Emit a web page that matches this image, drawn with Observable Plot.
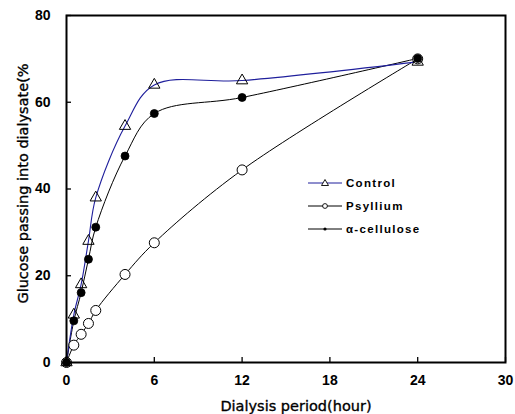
<!DOCTYPE html>
<html>
<head>
<meta charset="utf-8">
<script src="https://cdn.jsdelivr.net/npm/d3@7"></script>
<script src="https://cdn.jsdelivr.net/npm/@observablehq/plot@0.6"></script>
<style>
  html, body { margin: 0; padding: 0; background: #fff; }
  #wrap { position: relative; width: 515px; height: 414px; }
  #legend { position: absolute; left: 308px; top: 171px; font-family: "Liberation Sans", Arial, sans-serif; font-weight: bold; font-size: 11.5px; letter-spacing: 1.3px; color: #000; }
  #legend .row { display: flex; align-items: center; height: 23px; }
  #legend svg { margin-right: 2px; }
</style>
</head>
<body>
<div id="wrap"></div>
<script>
const hours = [0, 0.5, 1, 1.5, 2, 4, 6, 12, 24];
const control = [0, 11, 18, 28, 38, 54.5, 64, 65, 69.3];
const psyllium = [0, 4, 6.5, 9, 12, 20.3, 27.6, 44.4, 70];
const cellulose = [0, 9.6, 16.1, 23.8, 31.2, 47.6, 57.4, 61.1, 70.1];
const seriesNames = ["Control", "Psyllium", "α-cellulose"];
const xTicks = [0, 6, 12, 18, 24, 30];
const yTicks = [0, 20, 40, 60, 80];
const xLabel = "Dialysis period(hour)";
const yLabel = "Glucose passing into dialysate(%";

const blue = "#1f1f9c";
const font = "Liberation Sans, Arial, sans-serif";
const labelFont = "DejaVu Sans, Verdana, sans-serif";

const rows = (vals, name) => hours.map((h, i) => ({hour: h, value: vals[i], series: name}));
const dControl = rows(control, seriesNames[0]);
const dPsyllium = rows(psyllium, seriesNames[1]);
const dCellulose = rows(cellulose, seriesNames[2]);

const chart = Plot.plot({
  width: 515,
  height: 414,
  marginLeft: 66,
  marginRight: 10,
  marginTop: 15,
  marginBottom: 52,
  style: {fontFamily: font, fontSize: "14px", fontWeight: "bold", background: "#fff"},
  x: {domain: [0, 30]},
  y: {domain: [0, 80]},
  marks: [
    Plot.axisX({ticks: xTicks, tickSize: 0, tickPadding: 13, tickFormat: d => d, label: null}),
    Plot.axisY({ticks: yTicks, tickSize: 0, tickPadding: 16, tickFormat: d => d, label: null}),
    Plot.axisX({ticks: xTicks, tickSize: 5, dy: -5, text: null, label: null, strokeWidth: 1.3}),
    Plot.axisY({ticks: yTicks, tickSize: 5, dx: 5, text: null, label: null, strokeWidth: 1.3}),
    Plot.line(dPsyllium, {x: "hour", y: "value", curve: "catmull-rom", stroke: "#000", strokeWidth: 1}),
    Plot.line(dCellulose, {x: "hour", y: "value", curve: "catmull-rom", stroke: "#000", strokeWidth: 1}),
    Plot.line(dControl, {x: "hour", y: "value", curve: "catmull-rom", stroke: blue, strokeWidth: 1.1}),
    Plot.dot(dPsyllium, {x: "hour", y: "value", r: 5, fill: "#fff", stroke: "#000", strokeWidth: 1}),
    Plot.dot(dCellulose, {x: "hour", y: "value", r: 4, fill: "#000", stroke: "#000", strokeWidth: 0.8}),
    Plot.dot(dControl, {x: "hour", y: "value", r: 4.2, symbol: "triangle", fill: "none", stroke: "#000", strokeWidth: 1}),
    Plot.frame({stroke: "#000", strokeWidth: 2}),
    Plot.text([xLabel], {frameAnchor: "bottom", dy: 44, dx: 10, textAnchor: "middle", lineAnchor: "middle", fontFamily: labelFont, fontSize: 14.5, fontWeight: "normal", letterSpacing: "1.2px", fill: "#000", stroke: "#000", strokeWidth: 0.35}),
    Plot.text([yLabel], {frameAnchor: "left", dx: -43.5, dy: -5.5, rotate: -90, textAnchor: "middle", lineAnchor: "middle", fontFamily: labelFont, fontSize: 14.5, fontWeight: "normal", letterSpacing: "0.3px", fill: "#000", stroke: "#000", strokeWidth: 0.35})
  ]
});

const wrap = document.getElementById("wrap");
wrap.appendChild(chart);

// legend
const legend = document.createElement("div");
legend.id = "legend";
const sym = {
  "Control": `<line x1="0" y1="6" x2="34" y2="6" stroke="${blue}" stroke-width="1"/><path d="M17,2.5 L20.5,8.5 L13.5,8.5 Z" fill="#fff" stroke="#000" stroke-width="0.9"/>`,
  "Psyllium": `<line x1="0" y1="6" x2="34" y2="6" stroke="#000" stroke-width="1"/><circle cx="17" cy="6" r="2.4" fill="#fff" stroke="#000" stroke-width="0.9"/>`,
  "α-cellulose": `<line x1="0" y1="6" x2="34" y2="6" stroke="#000" stroke-width="1"/><circle cx="17" cy="6" r="1.6" fill="#000"/>`
};
seriesNames.forEach(name => {
  const row = document.createElement("div");
  row.className = "row";
  row.innerHTML = `<svg width="36" height="12">${sym[name]}</svg><span>${name}</span>`;
  legend.appendChild(row);
});
wrap.appendChild(legend);
</script>
</body>
</html>
